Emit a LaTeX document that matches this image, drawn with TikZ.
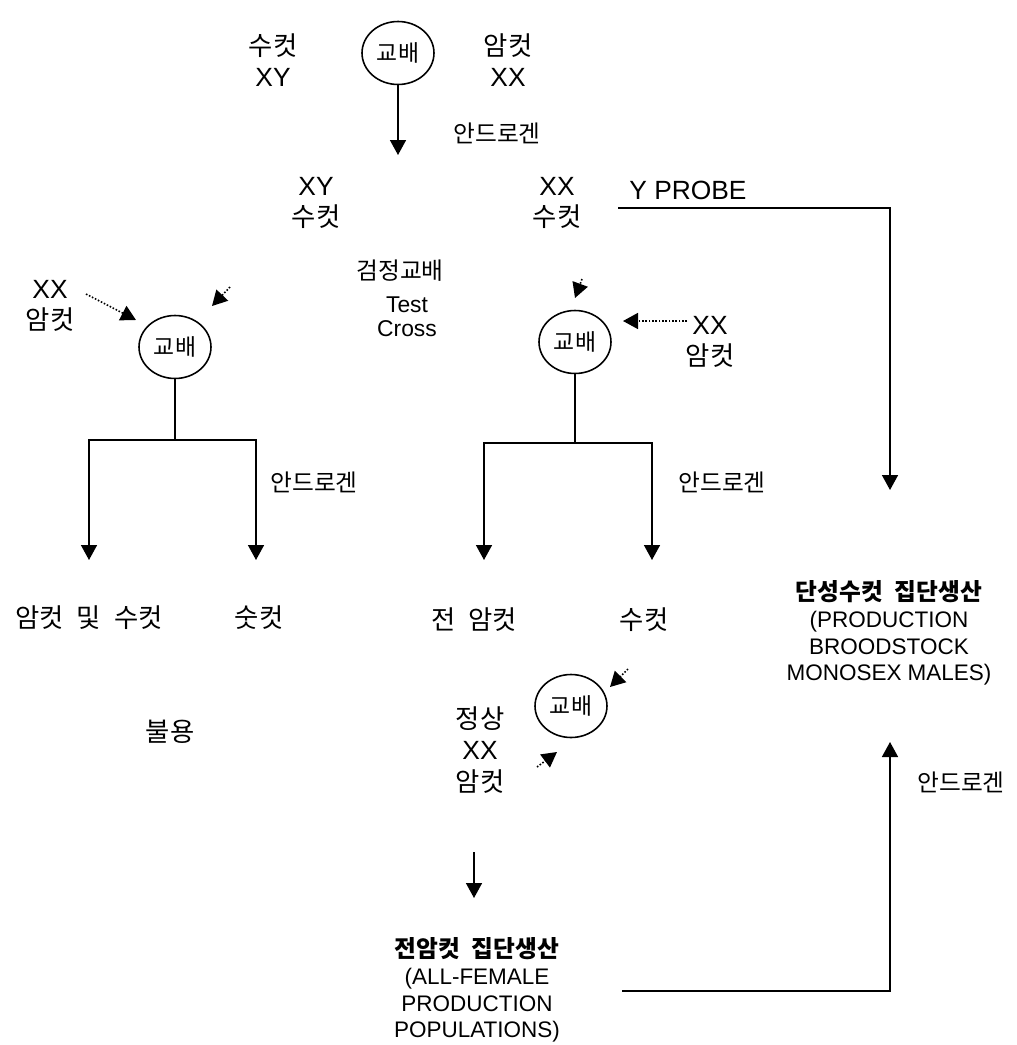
\documentclass[tikz,border=0pt]{standalone}
\usepackage{fontspec}
\setmainfont{Liberation Sans}
\newfontfamily\kr{Noto Sans CJK KR}
\usetikzlibrary{shapes.geometric, arrows.meta}

\begin{document}
\begin{tikzpicture}[
    x=0.02cm, y=-0.02cm,
    lbl/.style={align=center, inner sep=0pt, font=\fontsize{15}{18}\selectfont},
    krlbl/.style={lbl, font=\kr\fontsize{15}{18}\selectfont},
    note/.style={inner sep=0pt, font=\kr\fontsize{13.5}{16}\selectfont},
    small/.style={align=center, inner sep=0pt, font=\fontsize{13}{13.5}\selectfont},
    title/.style={align=center, inner sep=0pt, font=\fontsize{12.8}{15.2}\selectfont},
    cross/.style={ellipse, draw, line width=0.9pt, minimum width=1.44cm,
                  minimum height=1.26cm, inner sep=0pt, font=\kr\fontsize{13}{15}\selectfont},
    arrow/.style={-{Triangle[length=0.3cm, width=0.32cm]}, line width=0.9pt},
    dotarrow/.style={arrow, densely dotted}
]
\useasboundingbox (0,0) rectangle (1017,1045);

% first cross
\node[lbl] (male) at (273,60) {{\kr 수컷}\\XY};
\node[cross] (crossTop) at (398,53) {교배};
\node[lbl] (female) at (508,60) {{\kr 암컷}\\XX};
\node[note] (andrTop) at (497,133) {안드로겐};
\coordinate (topTip) at (398,155);
\draw[arrow] (crossTop) -- (topTip);

% offspring
\node[lbl] (xyMale) at (316,203) {XY\\{\kr 수컷}};
\node[lbl] (xxMale) at (557,203) {XX\\{\kr 수컷}};
\node[lbl] (probe) at (688,190) {Y PROBE};
\node[note] (testKr) at (400,271) {검정교배};
\node[small] (testEn) at (407,317) {Test\\Cross};

% left test cross
\node[cross] (crossL) at (175,347) {교배};
\node[lbl] (femL) at (50,306) {XX\\{\kr 암컷}};
\coordinate (femLfrom) at (86,294);
\coordinate (femLto) at (136,320);
\coordinate (xyFrom) at (230,287);
\coordinate (xyTo) at (212,306);
\draw[dotarrow] (femLfrom) -- (femLto);
\draw[dotarrow] (xyFrom) -- (xyTo);

\coordinate (splitL) at (175,440);
\coordinate (tipLL) at (89,560);
\coordinate (tipLR) at (256,560);
\draw[line width=0.9pt] (crossL) -- (splitL);
\draw[arrow] (splitL) -| (tipLL);
\draw[arrow] (splitL) -| (tipLR);
\node[note] (andrL) at (314,482) {안드로겐};

\node[krlbl] (bothL) at (89,618) {암컷\enspace 및\enspace 수컷};
\node[krlbl] (maleL) at (259,618) {숫컷};
\node[krlbl] (unused) at (170,732) {불용};

% right test cross
\node[cross] (crossM) at (575,342) {교배};
\node[lbl] (femM) at (710,342) {XX\\{\kr 암컷}};
\coordinate (femMfrom) at (687,321);
\coordinate (femMto) at (623,321);
\coordinate (xxFrom) at (582,279);
\coordinate (xxTo) at (575,298);
\draw[dotarrow] (femMfrom) -- (femMto);
\draw[dotarrow] (xxFrom) -- (xxTo);

\coordinate (splitM) at (575,443);
\coordinate (tipML) at (484,560);
\coordinate (tipMR) at (652,560);
\draw[line width=0.9pt] (crossM) -- (splitM);
\draw[arrow] (splitM) -| (tipML);
\draw[arrow] (splitM) -| (tipMR);
\node[note] (andrM) at (722,482) {안드로겐};

\node[krlbl] (allFem) at (474,620) {전\enspace 암컷};
\node[krlbl] (maleM) at (644,620) {수컷};

% cross with normal females
\node[cross] (crossB) at (571,706) {교배};
\node[lbl] (normFem) at (480,750) {{\kr 정상}\\XX\\{\kr 암컷}};
\coordinate (maleFrom) at (628,669);
\coordinate (maleTo) at (610,687);
\coordinate (normFrom) at (537,767);
\coordinate (normTo) at (557,752);
\draw[dotarrow] (maleFrom) -- (maleTo);
\draw[dotarrow] (normFrom) -- (normTo);

\coordinate (downFrom) at (474,852);
\coordinate (downTip) at (474,898);
\draw[arrow] (downFrom) -- (downTip);

% production
\node[title] (femPop) at (477,990) {{\kr\bfseries\fontsize{13.5}{15.2}\selectfont 전암컷\enspace 집단생산}\\(ALL-FEMALE\\PRODUCTION\\POPULATIONS)};
\node[title] (malePop) at (889,633) {{\kr\bfseries\fontsize{13.5}{15.2}\selectfont 단성수컷\enspace 집단생산}\\(PRODUCTION\\BROODSTOCK\\MONOSEX MALES)};
\node[note] (andrR) at (961,782) {안드로겐};

\coordinate (probeStart) at (618,208);
\coordinate (probeTip) at (890,490);
\draw[arrow] (probeStart) -| (probeTip);

\coordinate (popStart) at (622,991);
\coordinate (popTip) at (890,742);
\draw[arrow] (popStart) -| (popTip);

\end{tikzpicture}
\end{document}
